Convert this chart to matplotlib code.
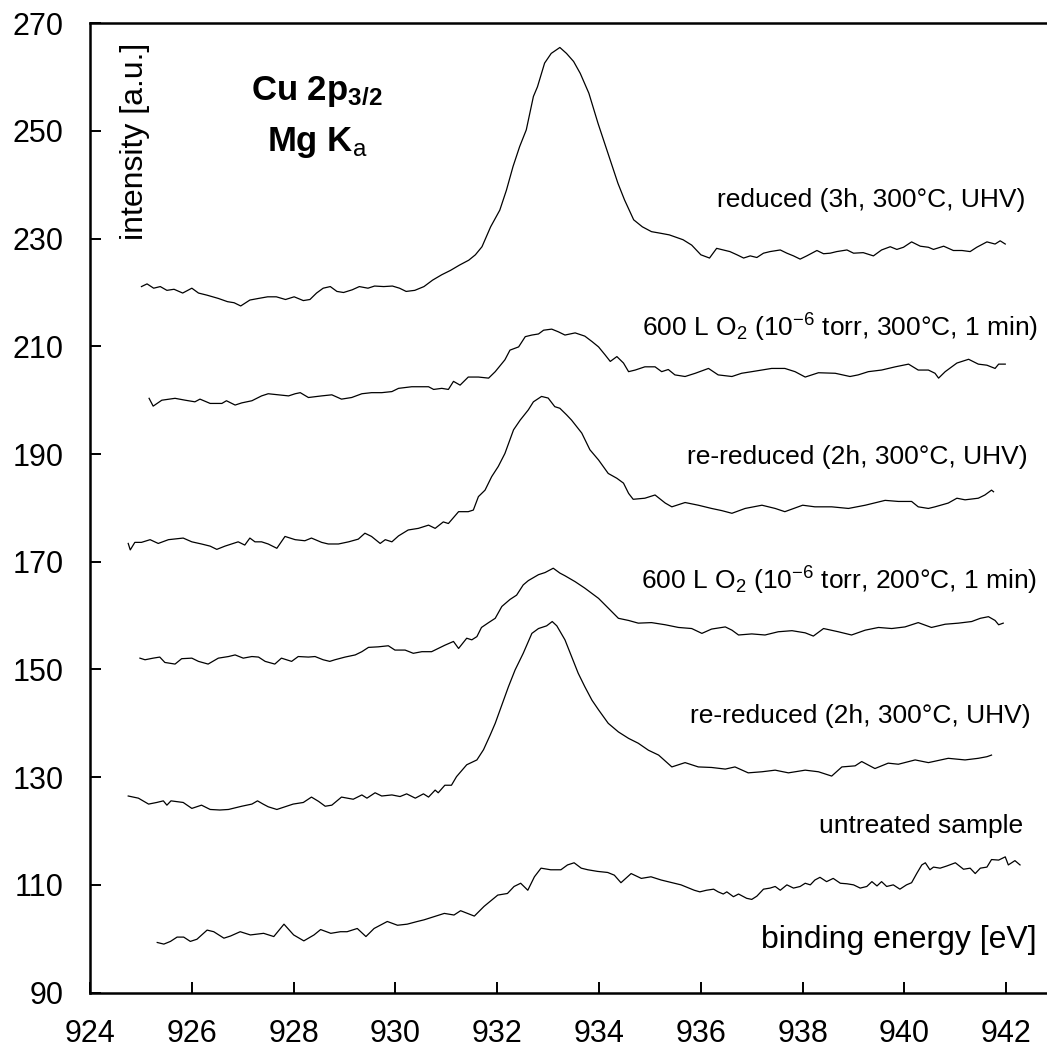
import matplotlib
matplotlib.use('Agg')
import matplotlib.pyplot as plt

plt.rcParams['font.family'] = ['Liberation Sans', 'DejaVu Sans']
plt.rcParams['mathtext.fontset'] = 'custom'
plt.rcParams['mathtext.rm'] = 'Liberation Sans'
plt.rcParams['mathtext.it'] = 'Liberation Sans:italic'
plt.rcParams['mathtext.bf'] = 'Liberation Sans:bold'
plt.rcParams['mathtext.default'] = 'regular'

# reduced (3h, 300C, UHV)
e_red = [925.01, 925.12, 925.25, 925.38, 925.51, 925.65, 925.82, 926.0, 926.13, 926.3,
         926.52, 926.7, 926.83, 926.96, 927.14, 927.31, 927.49, 927.66, 927.84, 928.01,
         928.19, 928.32, 928.45, 928.58, 928.72, 928.85, 928.98, 929.15, 929.29, 929.46,
         929.59, 929.77, 929.94, 930.08, 930.21, 930.38, 930.56, 930.73, 930.91, 931.08,
         931.26, 931.44, 931.57, 931.7, 931.87, 932.05, 932.18, 932.31, 932.44, 932.57,
         932.71, 932.79, 932.93, 933.06, 933.23, 933.36, 933.5, 933.63, 933.8, 933.98,
         934.11, 934.24, 934.37, 934.5, 934.68, 934.85, 935.03, 935.21, 935.38, 935.65,
         935.82, 936.0, 936.17, 936.31, 936.44, 936.57, 936.71, 936.84, 936.97, 937.1,
         937.23, 937.36, 937.56, 937.69, 937.82, 937.95, 938.08, 938.28, 938.41, 938.54,
         938.67, 938.87, 939.0, 939.19, 939.39, 939.55, 939.72, 939.85, 939.98, 940.14,
         940.31, 940.47, 940.57, 940.77, 940.96, 941.13, 941.29, 941.42, 941.62, 941.78,
         941.88, 941.98]
i_red = [221.1, 221.6, 220.8, 221.1, 220.4, 220.6, 219.9, 220.8, 219.9, 219.5,
         218.9, 218.3, 218.1, 217.5, 218.6, 218.9, 219.2, 219.2, 218.7, 219.2,
         218.5, 218.7, 219.9, 220.8, 221.1, 220.2, 220.0, 220.5, 221.1, 220.8,
         221.2, 221.1, 221.2, 220.8, 220.2, 220.4, 221.1, 222.3, 223.3, 224.1,
         225.1, 226.0, 227.0, 228.5, 232.2, 235.3, 239.0, 243.4, 247.1, 250.2,
         256.4, 258.2, 262.6, 264.4, 265.5, 264.4, 262.9, 260.7, 257.0, 251.4,
         247.7, 244.0, 240.3, 237.2, 233.5, 232.2, 231.3, 231.0, 230.7, 229.8,
         228.8, 227.0, 226.4, 228.2, 227.9, 227.6, 227.0, 226.4, 226.8, 226.5,
         227.3, 227.6, 227.9, 227.3, 226.8, 226.2, 226.8, 227.8, 227.2, 227.3,
         227.6, 227.9, 227.3, 227.4, 226.8, 227.9, 228.5, 228.0, 228.4, 229.4,
         228.6, 228.4, 228.0, 228.6, 227.8, 227.8, 227.6, 228.4, 229.4, 229.0,
         229.6, 229.0]

# 600 L O2 (1e-6 torr, 300C, 1 min)
e_ox300 = [925.16, 925.24, 925.41, 925.67, 925.87, 926.06, 926.16, 926.36, 926.59, 926.68,
           926.85, 926.98, 927.18, 927.37, 927.5, 927.9, 928.03, 928.13, 928.29, 928.55,
           928.75, 928.94, 929.14, 929.34, 929.53, 929.73, 929.93, 930.06, 930.32, 930.65,
           930.75, 930.91, 931.04, 931.14, 931.27, 931.43, 931.63, 931.83, 931.96, 932.15,
           932.25, 932.42, 932.55, 932.68, 932.81, 932.91, 933.07, 933.2, 933.33, 933.53,
           933.72, 933.86, 933.99, 934.12, 934.22, 934.35, 934.48, 934.58, 934.71, 934.9,
           935.1, 935.23, 935.36, 935.49, 935.69, 935.89, 936.15, 936.34, 936.61, 936.8,
           937.0, 937.39, 937.65, 937.85, 938.05, 938.31, 938.64, 938.93, 939.09, 939.29,
           939.55, 939.82, 940.08, 940.27, 940.47, 940.6, 940.67, 940.8, 941.03, 941.26,
           941.45, 941.62, 941.78, 941.85, 941.98]
i_ox300 = [200.35, 198.9, 200.0, 200.35, 200.0, 199.7, 200.2, 199.4, 199.4, 199.9,
           199.1, 199.5, 199.9, 200.8, 201.2, 200.8, 201.2, 201.4, 200.5, 200.8,
           201.0, 200.2, 200.5, 201.2, 201.4, 201.4, 201.6, 202.2, 202.5, 202.5,
           202.0, 202.2, 202.0, 203.5, 202.8, 204.3, 204.3, 204.1, 205.3, 207.5,
           209.3, 209.9, 211.8, 212.1, 212.3, 213.0, 213.2, 212.7, 212.1, 212.5,
           211.9, 210.9, 209.9, 208.4, 207.2, 208.1, 206.9, 205.3, 205.6, 206.2,
           206.2, 205.3, 205.7, 204.7, 204.4, 205.0, 205.9, 204.7, 204.4, 205.0,
           205.3, 205.9, 205.9, 205.3, 204.3, 205.1, 205.0, 204.4, 204.7, 205.3,
           205.6, 206.2, 206.7, 205.6, 205.6, 205.0, 204.1, 205.3, 206.9, 207.6,
           206.7, 206.5, 205.9, 206.7, 206.7]

# re-reduced (2h, 300C, UHV), upper
e_rr1 = [924.75, 924.79, 924.88, 925.01, 925.18, 925.34, 925.54, 925.83, 926.0, 926.19,
         926.36, 926.49, 926.65, 926.91, 927.04, 927.14, 927.24, 927.37, 927.5, 927.67,
         927.83, 928.03, 928.22, 928.35, 928.55, 928.68, 928.88, 929.08, 929.27, 929.4,
         929.53, 929.7, 929.8, 929.93, 930.06, 930.25, 930.45, 930.65, 930.78, 930.94,
         931.04, 931.24, 931.43, 931.53, 931.63, 931.76, 931.89, 932.02, 932.15, 932.32,
         932.45, 932.61, 932.71, 932.87, 933.0, 933.13, 933.23, 933.36, 933.46, 933.66,
         933.82, 933.99, 934.18, 934.35, 934.48, 934.58, 934.67, 934.9, 935.1, 935.3,
         935.43, 935.69, 935.95, 936.21, 936.41, 936.61, 936.87, 937.2, 937.46, 937.65,
         938.0, 938.24, 938.57, 938.9, 939.23, 939.62, 939.88, 940.14, 940.27, 940.47,
         940.6, 940.86, 941.03, 941.19, 941.45, 941.58, 941.71, 941.75]
i_rr1 = [173.4, 172.2, 173.6, 173.6, 174.1, 173.4, 174.1, 174.4, 173.7, 173.3,
         172.9, 172.3, 172.9, 173.7, 173.1, 174.4, 173.7, 173.7, 173.3, 172.5,
         174.7, 174.1, 173.9, 174.4, 173.6, 173.3, 173.3, 173.7, 174.2, 175.3,
         174.7, 173.4, 174.1, 173.7, 174.8, 175.9, 176.2, 176.8, 176.2, 177.4,
         177.1, 179.3, 179.3, 179.6, 182.1, 183.3, 185.8, 187.7, 190.1, 194.5,
         196.3, 198.2, 199.7, 200.7, 200.4, 198.8, 198.5, 197.3, 196.3, 193.9,
         190.8, 188.9, 186.4, 185.5, 184.6, 182.7, 181.6, 181.8, 182.4, 180.9,
         180.2, 181.0, 180.5, 179.9, 179.5, 179.0, 179.9, 180.5, 179.9, 179.3,
         180.5, 180.2, 180.2, 179.9, 180.5, 181.4, 181.2, 181.2, 180.2, 179.9,
         180.2, 180.9, 181.8, 181.5, 181.8, 182.4, 183.3, 183.0]

# 600 L O2 (1e-6 torr, 200C, 1 min)
e_ox200 = [924.98, 925.08, 925.24, 925.37, 925.47, 925.67, 925.8, 926.0, 926.13, 926.32,
           926.52, 926.72, 926.85, 927.01, 927.18, 927.31, 927.44, 927.63, 927.76, 927.96,
           928.09, 928.29, 928.42, 928.58, 928.71, 928.81, 929.01, 929.21, 929.34, 929.47,
           929.66, 929.86, 929.99, 930.19, 930.35, 930.52, 930.71, 930.84, 930.97, 931.14,
           931.24, 931.4, 931.5, 931.6, 931.69, 931.83, 931.96, 932.09, 932.25, 932.38,
           932.51, 932.61, 932.81, 932.94, 933.1, 933.23, 933.33, 933.53, 933.72, 933.99,
           934.18, 934.38, 934.58, 934.77, 935.03, 935.3, 935.56, 935.82, 936.02, 936.21,
           936.48, 936.61, 936.74, 937.0, 937.26, 937.52, 937.79, 938.05, 938.21, 938.41,
           938.7, 938.96, 939.23, 939.49, 939.75, 940.01, 940.27, 940.53, 940.8, 941.06,
           941.32, 941.49, 941.65, 941.78, 941.85, 941.94]
i_ox200 = [152.1, 151.8, 152.1, 152.3, 151.3, 151.0, 152.0, 152.1, 151.5, 151.0,
           152.1, 152.4, 152.7, 152.1, 152.4, 152.3, 151.5, 151.0, 152.1, 151.5,
           152.4, 152.3, 152.4, 151.8, 151.5, 151.8, 152.3, 152.7, 153.3, 154.1,
           154.2, 154.4, 153.6, 153.6, 153.0, 153.3, 153.3, 153.9, 154.5, 155.2,
           153.9, 155.8, 155.5, 156.1, 157.8, 158.7, 159.5, 161.7, 163.0, 163.8,
           165.7, 166.5, 167.6, 168.0, 168.8, 167.9, 167.4, 166.3, 165.1, 163.2,
           161.4, 159.5, 159.1, 158.6, 158.7, 158.3, 157.8, 157.6, 156.7, 157.5,
           157.9, 157.3, 156.4, 156.6, 156.4, 157.0, 157.2, 156.8, 156.2, 157.6,
           157.0, 156.4, 157.3, 157.8, 157.6, 157.9, 158.7, 157.8, 158.4, 158.6,
           158.9, 159.5, 159.8, 159.1, 158.3, 158.6]

# re-reduced (2h, 300C, UHV), lower
e_rr2 = [924.75, 924.95, 925.15, 925.31, 925.44, 925.51, 925.59, 925.83, 926.0, 926.19,
         926.36, 926.55, 926.72, 926.98, 927.18, 927.29, 927.4, 927.5, 927.67, 927.83,
         927.99, 928.19, 928.35, 928.49, 928.62, 928.75, 928.94, 929.17, 929.34, 929.44,
         929.6, 929.73, 929.93, 930.09, 930.22, 930.39, 930.55, 930.65, 930.78, 930.84,
         930.97, 931.1, 931.2, 931.4, 931.6, 931.73, 931.86, 931.96, 932.09, 932.22,
         932.35, 932.51, 932.68, 932.81, 932.97, 933.08, 933.17, 933.33, 933.46, 933.59,
         933.72, 933.86, 933.99, 934.18, 934.38, 934.58, 934.77, 934.97, 935.17, 935.43,
         935.69, 935.95, 936.21, 936.48, 936.67, 936.93, 937.2, 937.46, 937.72, 938.05,
         938.31, 938.57, 938.77, 939.03, 939.16, 939.42, 939.68, 939.88, 940.21, 940.47,
         940.86, 941.19, 941.45, 941.62, 941.71]
i_rr2 = [126.5, 126.1, 125.0, 125.3, 125.6, 124.8, 125.6, 125.3, 124.2, 124.8,
         124.0, 123.9, 124.0, 124.6, 125.0, 125.6, 125.0, 124.5, 124.0, 124.5,
         125.0, 125.3, 126.3, 125.5, 124.6, 124.8, 126.3, 125.9, 126.7, 126.1,
         127.1, 126.5, 126.7, 126.4, 126.9, 126.1, 126.9, 126.3, 127.6, 127.1,
         128.5, 128.5, 130.1, 132.3, 133.2, 135.1, 137.8, 140.0, 143.4, 146.8,
         149.9, 153.0, 156.7, 157.6, 158.1, 158.9, 158.1, 155.5, 152.4, 149.3,
         146.8, 144.3, 142.5, 140.0, 138.4, 137.2, 136.3, 135.0, 134.1, 131.9,
         132.7, 131.9, 131.8, 131.5, 131.9, 130.8, 131.0, 131.3, 130.8, 131.3,
         131.0, 130.2, 131.9, 132.1, 132.9, 131.6, 132.6, 132.4, 133.2, 132.7,
         133.5, 133.2, 133.5, 133.8, 134.1]

# untreated sample
e_untr = [925.32, 925.45, 925.58, 925.71, 925.84, 925.97, 926.10, 926.30, 926.43, 926.63,
          926.76, 926.95, 927.15, 927.41, 927.61, 927.81, 928.00, 928.20, 928.40, 928.53,
          928.73, 928.92, 929.05, 929.25, 929.42, 929.58, 929.84, 930.04, 930.23, 930.43,
          930.56, 930.76, 930.96, 931.15, 931.28, 931.55, 931.74, 932.01, 932.20, 932.33,
          932.46, 932.60, 932.73, 932.86, 933.05, 933.25, 933.38, 933.51, 933.65, 933.78,
          933.97, 934.17, 934.30, 934.43, 934.63, 934.83, 935.02, 935.22, 935.35, 935.61,
          935.87, 935.98, 936.11, 936.25, 936.34, 936.44, 936.51, 936.64, 936.74, 936.90,
          937.00, 937.10, 937.23, 937.36, 937.46, 937.56, 937.69, 937.82, 937.95, 938.05,
          938.15, 938.24, 938.34, 938.47, 938.60, 938.74, 938.87, 939.00, 939.13, 939.26,
          939.36, 939.46, 939.55, 939.65, 939.78, 939.91, 940.04, 940.14, 940.24, 940.34,
          940.41, 940.50, 940.57, 940.70, 940.83, 941.00, 941.16, 941.29, 941.39, 941.49,
          941.62, 941.71, 941.85, 941.98, 942.04, 942.17, 942.27]
i_untr = [99.3, 99.0, 99.5, 100.3, 100.3, 99.5, 99.9, 101.6, 101.3, 100.1,
          100.5, 101.3, 100.7, 101.0, 100.4, 102.7, 100.7, 99.6, 100.7, 101.7,
          101.0, 101.3, 101.3, 101.9, 100.4, 101.9, 103.2, 102.5, 102.7, 103.2,
          103.5, 104.1, 104.7, 104.4, 105.2, 104.2, 106.0, 108.1, 108.4, 109.7,
          110.3, 109.0, 111.5, 113.1, 112.8, 112.8, 113.7, 114.1, 113.1, 112.8,
          112.5, 112.3, 111.8, 110.4, 112.1, 111.2, 111.5, 110.9, 110.6, 110.0,
          109.0, 108.7, 109.0, 109.2, 108.7, 108.3, 108.7, 107.8, 108.3, 107.5,
          107.3, 107.9, 109.2, 109.4, 109.7, 109.0, 110.0, 109.4, 109.7, 110.3,
          110.0, 110.9, 111.4, 110.6, 111.2, 110.3, 110.2, 110.0, 109.4, 109.7,
          110.6, 109.8, 110.6, 109.7, 110.0, 109.2, 110.0, 110.4, 112.1, 113.7,
          114.1, 112.8, 113.3, 113.1, 113.5, 114.1, 112.9, 113.1, 112.1, 113.1,
          113.3, 114.7, 114.6, 115.2, 113.7, 114.5, 113.7]

energies = [e_red, e_ox300, e_rr1, e_ox200, e_rr2, e_untr]
intensities = [i_red, i_ox300, i_rr1, i_ox200, i_rr2, i_untr]
labels = ['reduced (3h, 300°C, UHV)',
          '600 L O$_2$ (10$^{-6}$ torr, 300°C, 1 min)',
          're-reduced (2h, 300°C, UHV)',
          '600 L O$_2$ (10$^{-6}$ torr, 200°C, 1 min)',
          're-reduced (2h, 300°C, UHV)',
          'untreated sample']

x_ticks = list(range(924, 943, 2))
y_ticks = list(range(90, 271, 20))

fig = plt.figure(figsize=(10.47, 10.52), dpi=100)
ax = fig.add_axes([0.086, 0.0565, 0.914, 0.9214])

for e, v in zip(energies, intensities):
    ax.plot(e, v, color='black', lw=0.9)

# label anchors (right edge, baseline) in data units
lab_x = [942.37, 942.62, 942.41, 942.60, 942.47, 942.33]
lab_y = [235.9, 211.75, 188.2, 164.8, 140.0, 119.6]
for t, x, y in zip(labels, lab_x, lab_y):
    ax.text(x, y, t, ha='right', va='baseline', fontsize=19)

ax.text(928.46, 255.8, r'Cu 2p$_{3/2}$', ha='center', va='baseline',
        fontsize=25, fontweight='bold')
ax.text(928.46, 246.2, r'Mg K$_\mathrm{a}$', ha='center', va='baseline',
        fontsize=25, fontweight='bold')

ax.set_xlim(924, 942.8)
ax.set_ylim(90, 270)
ax.set_xticks(x_ticks)
ax.set_yticks(y_ticks)
ax.tick_params(direction='in', length=8, width=1.4, pad=19, labelsize=22)

ax.set_ylabel('intensity [a.u.]', fontsize=23)
ax.yaxis.set_label_coords(0.047, 0.98)
ax.yaxis.label.set(rotation_mode='default', ha='center', va='top')

ax.set_xlabel('binding energy [eV]', fontsize=23)
ax.xaxis.set_label_coords(0.9896, 0.0457)
ax.xaxis.label.set(ha='right', va='baseline')

ax.spines['right'].set_visible(False)
for s in ['left', 'bottom', 'top']:
    ax.spines[s].set_linewidth(1.8)

fig.savefig('out.png', dpi=100)
